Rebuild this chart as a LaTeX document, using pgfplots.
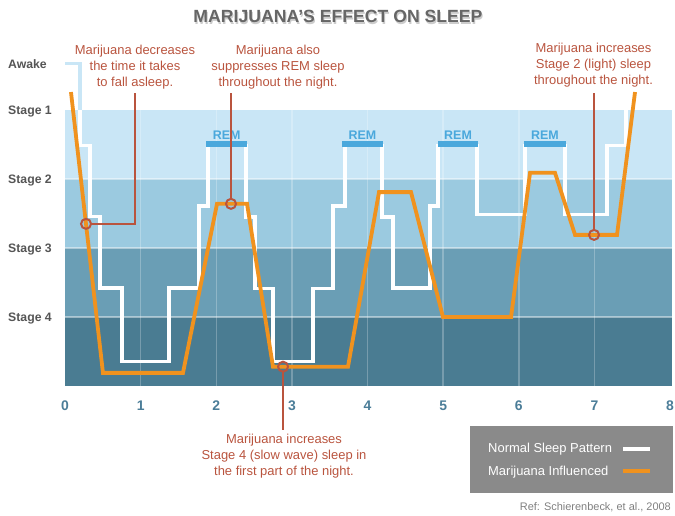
\documentclass[border=0pt]{standalone}
\usepackage{fontspec}
\setmainfont{Liberation Sans}
\usepackage{pgfplots}
\pgfplotsset{compat=1.18}
\definecolor{band1}{HTML}{C9E6F6}
\definecolor{band2}{HTML}{9BCAE0}
\definecolor{band3}{HTML}{6A9EB5}
\definecolor{band4}{HTML}{4A7C92}
\definecolor{orng}{HTML}{F0921E}
\definecolor{annot}{HTML}{B9543E}
\definecolor{remc}{HTML}{4AA8DC}
\definecolor{tickc}{HTML}{4B7D98}
\definecolor{lblc}{HTML}{555555}
\definecolor{titlec}{HTML}{666666}
\definecolor{leggray}{HTML}{8A8A8A}
\begin{document}
\begin{tikzpicture}
\path[use as bounding box] (0,0) rectangle (675bp,516bp);
\begin{axis}[
  at={(65bp,130bp)}, anchor=south west,
  scale only axis, width=607bp, height=345bp,
  xmin=0, xmax=8.026, ymin=0, ymax=5,
  clip=false,
  axis line style={draw=none},
  major tick length=0pt,
  xtick={0,1,...,8},
  ytick={1,2,3,4,4.67},
  yticklabels={Stage 4,Stage 3,Stage 2,Stage 1,Awake},
  yticklabel style={anchor=base west, inner sep=0pt, xshift=-57bp, yshift=-4.4bp,
    font=\fontsize{12.3}{14}\selectfont\bfseries, text=lblc},
  xticklabel style={anchor=center, inner sep=0pt, yshift=-20bp,
    font=\fontsize{14}{16}\selectfont\bfseries, text=tickc},
  /pgf/number format/assume math mode=true,
]
% background bands
\fill[band4] (axis cs:0,0) rectangle (axis cs:8.026,1);
\fill[band3] (axis cs:0,1) rectangle (axis cs:8.026,2);
\fill[band2] (axis cs:0,2) rectangle (axis cs:8.026,3);
\fill[band1] (axis cs:0,3) rectangle (axis cs:8.026,4);
\pgfplotsinvokeforeach{1,2,3}{
  \draw[white, opacity=0.45, line width=1.2bp] (axis cs:0,#1) -- (axis cs:8.026,#1);
}
\pgfplotsinvokeforeach{1,...,7}{
  \draw[white, opacity=0.25, line width=1.5bp] (axis cs:#1,0) -- (axis cs:#1,4);
}
% normal sleep pattern
\addplot[band1, line width=3.2bp, forget plot] coordinates {
(0,4.67) (0.198,4.67) (0.198,4.0)};
\addplot[white, line width=3.2bp, forget plot] coordinates {
(0.198,4.0) (0.198,3.49) (0.33,3.49) (0.33,2.46) (0.463,2.46) (0.463,1.42)
(0.754,1.42) (0.754,0.36) (1.375,0.36) (1.375,1.42) (1.772,1.42) (1.772,2.61)
(1.891,2.61) (1.891,3.49) (2.393,3.49) (2.393,2.45) (2.512,2.45) (2.512,1.41)
(2.750,1.41) (2.750,0.35) (3.279,0.35) (3.279,1.41) (3.544,1.41) (3.544,2.61)
(3.702,2.61) (3.702,3.49) (4.192,3.49) (4.192,2.45) (4.337,2.45) (4.337,1.42)
(4.826,1.42) (4.826,2.61) (4.932,2.61) (4.932,3.49) (5.448,3.49) (5.448,2.49)
(6.083,2.49) (6.083,3.49) (6.612,3.49) (6.612,2.49) (7.167,2.49) (7.167,3.49)
(7.418,3.49) (7.418,4.0)};
% REM bars
\addplot[remc, line width=5.2bp, forget plot] coordinates {(1.865,3.507) (2.407,3.507)};
\addplot[remc, line width=5.2bp, forget plot] coordinates {(3.663,3.507) (4.205,3.507)};
\addplot[remc, line width=5.2bp, forget plot] coordinates {(4.932,3.507) (5.461,3.507)};
\addplot[remc, line width=5.2bp, forget plot] coordinates {(6.069,3.507) (6.625,3.507)};
\pgfplotsinvokeforeach{2.137,3.934,5.197,6.347}{
  \node[text=remc, font=\fontsize{12.5}{14}\selectfont\bfseries, anchor=base]
    at (axis cs:#1,3.57) {REM};
}
% marijuana influenced
\addplot[orng, line width=3.8bp, line join=miter, forget plot] coordinates {
(0.079,4.26) (0.502,0.19) (1.560,0.19) (2.010,2.64) (2.407,2.64) (2.750,0.28)
(3.742,0.28) (4.152,2.81) (4.575,2.81) (4.998,1.00) (5.898,1.00) (6.149,3.09)
(6.479,3.09) (6.744,2.19) (7.299,2.19) (7.537,4.26)};
% annotation leaders
\addplot[annot, line width=2.2bp, forget plot] coordinates {(0.344,2.35) (0.926,2.35) (0.926,4.246)};
\addplot[annot, line width=2.2bp, forget plot] coordinates {(2.195,2.712) (2.195,4.246)};
\addplot[annot, line width=2.2bp, forget plot] coordinates {(2.883,0.208) (2.883,-0.638)};
\addplot[annot, line width=2.2bp, forget plot] coordinates {(6.995,2.262) (6.995,4.246)};
\addplot[only marks, mark=o, mark size=5bp, mark options={annot, line width=2bp}, forget plot]
  coordinates {(0.278,2.35) (2.195,2.64) (2.883,0.28) (6.995,2.19)};
\end{axis}
% title (with soft shadow)
\node[anchor=base, text=black!20, font=\fontsize{17.7}{20}\selectfont\bfseries] at (339bp,491.8bp)
  {MARIJUANA’S EFFECT ON SLEEP};
\node[anchor=base, text=titlec, font=\fontsize{17.7}{20}\selectfont\bfseries] at (338bp,493bp)
  {MARIJUANA’S EFFECT ON SLEEP};
% annotations
\begin{scope}[every node/.style={align=center, text=annot, font=\fontsize{13}{16}\selectfont, inner sep=0pt}]
\node at (135bp,449bp) {Marijuana decreases\\the time it takes\\to fall asleep.};
\node at (278bp,449bp) {Marijuana also\\suppresses REM sleep\\throughout the night.};
\node at (593.5bp,451bp) {Marijuana increases\\Stage 2 (light) sleep\\throughout the night.};
\node at (284bp,60bp) {Marijuana increases\\Stage 4 (slow wave) sleep in\\the first part of the night.};
\end{scope}
% legend
\fill[leggray] (470bp,23bp) rectangle (673bp,90bp);
\node[anchor=base west, inner sep=0pt, text=white, font=\fontsize{13}{15}\selectfont] at (488bp,63bp) {Normal Sleep Pattern};
\node[anchor=base west, inner sep=0pt, text=white, font=\fontsize{13}{15}\selectfont] at (488bp,40bp) {Marijuana Influenced};
\draw[white, line width=4bp] (623bp,67bp) -- (650bp,67bp);
\draw[orng, line width=4bp] (623bp,45bp) -- (650bp,45bp);
% reference
\node[anchor=base east, inner sep=0pt, text=gray, font=\fontsize{11}{13}\selectfont] at (671bp,6bp) {Ref: Schierenbeck, et al., 2008};
\end{tikzpicture}
\end{document}
